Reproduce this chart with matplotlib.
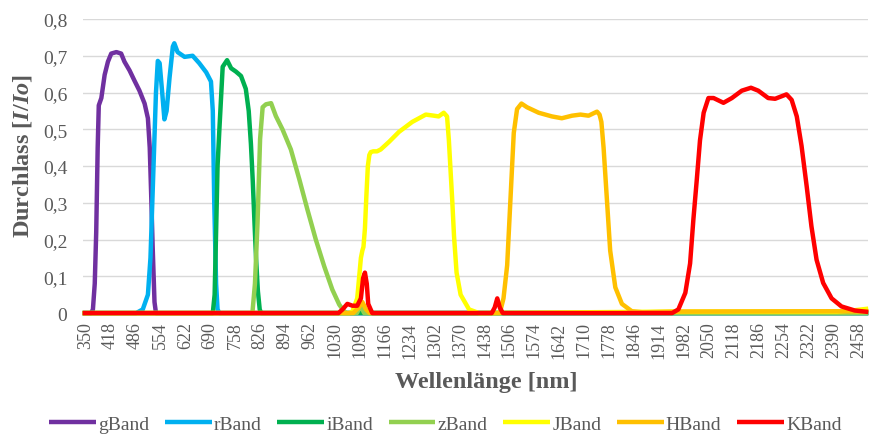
import matplotlib
matplotlib.use("Agg")
import matplotlib.pyplot as plt

plt.rcParams['font.family'] = ['Liberation Serif', 'DejaVu Serif']
plt.rcParams['mathtext.fontset'] = 'custom'
plt.rcParams['mathtext.it'] = 'Liberation Serif:italic:bold'
plt.rcParams['mathtext.rm'] = 'Liberation Serif:bold'

TXT = '#595959'

# transmission curves, wavelength [nm] vs I/Io
g_nm = [342, 365, 370, 375, 379, 383, 386, 393, 402, 411, 420, 434, 447, 456, 470, 483,
        497, 511, 520, 525, 529, 533, 538, 542, 2485]
g_val = [0, 0, 0.01, 0.08, 0.22, 0.45, 0.565, 0.585, 0.648, 0.684, 0.706, 0.71, 0.706,
         0.684, 0.66, 0.633, 0.605, 0.57, 0.53, 0.45, 0.32, 0.18, 0.03, 0, 0]

r_nm = [342, 488, 506, 520, 527, 532, 537, 542, 547, 552, 559, 565, 571, 579, 588, 592,
        601, 620, 642, 660, 679, 692, 697, 701, 706, 710, 715, 2485]
r_val = [0, 0, 0.01, 0.05, 0.15, 0.3, 0.45, 0.6, 0.686, 0.68, 0.6, 0.527, 0.55, 0.64,
         0.725, 0.734, 0.71, 0.697, 0.70, 0.68, 0.655, 0.63, 0.55, 0.3, 0.08, 0.01, 0, 0]

i_nm = [342, 697, 702, 706, 710, 715, 724, 736, 747, 760, 774, 787, 795, 801, 806, 811,
        815, 820, 825, 829, 2485]
i_val = [0, 0, 0.05, 0.22, 0.40, 0.50, 0.67, 0.688, 0.666, 0.657, 0.645, 0.61, 0.55, 0.46,
         0.36, 0.24, 0.15, 0.06, 0.01, 0, 0]

z_nm = [342, 805, 812, 819, 826, 833, 842, 856, 869, 887, 910, 933, 955, 978, 1001, 1023,
        1042, 1055, 1062, 1090, 1100, 1110, 1120, 2485]
z_val = [0, 0, 0.08, 0.245, 0.473, 0.56, 0.568, 0.571, 0.536, 0.50, 0.445, 0.364, 0.282,
         0.20, 0.127, 0.064, 0.023, 0.005, 0, 0, 0.02, 0, 0, 0]

j_nm = [342, 1070, 1078, 1091, 1101, 1105, 1108, 1112, 1116, 1120, 1124, 1128, 1135,
        1145, 1155, 1178, 1205, 1241, 1278, 1300, 1313, 1327, 1336, 1341, 1346, 1350,
        1355, 1362, 1373, 1396, 1423, 1950, 2400, 2450, 2485]
j_val = [0, 0, 0.005, 0.04, 0.15, 0.17, 0.18, 0.23, 0.32, 0.40, 0.43, 0.438, 0.44, 0.44,
         0.445, 0.466, 0.493, 0.52, 0.54, 0.537, 0.535, 0.545, 0.535, 0.47, 0.38, 0.31,
         0.21, 0.11, 0.05, 0.01, 0, 0.004, 0.004, 0.008, 0.012]

h_nm = [342, 1080, 1095, 1105, 1115, 1125, 1480, 1490, 1500, 1509, 1518, 1527, 1539, 1554,
        1586, 1622, 1649, 1677, 1700, 1722, 1745, 1752, 1757, 1763, 1772, 1781, 1795, 1813,
        1840, 1870, 1960, 2400, 2485]
h_val = [0, 0, 0.015, 0.03, 0.01, 0, 0, 0.04, 0.13, 0.31, 0.49, 0.555, 0.57, 0.56, 0.545,
         0.535, 0.53, 0.537, 0.54, 0.537, 0.548, 0.54, 0.52, 0.45, 0.31, 0.17, 0.07, 0.025,
         0.005, 0.002, 0.004, 0.005, 0.004]

k_nm = [342, 1040, 1051, 1064, 1078, 1091, 1101, 1107, 1112, 1117, 1121, 1132, 1458, 1466,
        1473, 1480, 1488, 1950, 1967, 1986, 1999, 2008, 2017, 2026, 2036, 2049, 2063, 2090,
        2113, 2140, 2165, 2185, 2212, 2231, 2262, 2276, 2290, 2303, 2317, 2330, 2344, 2362,
        2385, 2412, 2448, 2485]
k_val = [0, 0, 0.01, 0.025, 0.02, 0.02, 0.04, 0.095, 0.11, 0.08, 0.025, 0, 0, 0.015,
         0.04, 0.015, 0, 0, 0.01, 0.055, 0.135, 0.255, 0.36, 0.47, 0.545, 0.585, 0.585,
         0.572, 0.585, 0.605, 0.613, 0.605, 0.585, 0.583, 0.595, 0.58, 0.535, 0.455, 0.345,
         0.236, 0.145, 0.082, 0.04, 0.018, 0.007, 0.003]

bands = [
    ('gBand', g_nm, g_val, '#7030A0'),
    ('rBand', r_nm, r_val, '#00B0F0'),
    ('iBand', i_nm, i_val, '#00B050'),
    ('zBand', z_nm, z_val, '#92D050'),
    ('JBand', j_nm, j_val, '#FFFF00'),
    ('HBand', h_nm, h_val, '#FFC000'),
    ('KBand', k_nm, k_val, '#FF0000'),
]

x_ticks = list(range(350, 2459, 68))
y_ticks = [0, 0.1, 0.2, 0.3, 0.4, 0.5, 0.6, 0.7, 0.8]
y_labels = ['0', '0,1', '0,2', '0,3', '0,4', '0,5', '0,6', '0,7', '0,8']

fig = plt.figure(figsize=(8.7, 4.35), dpi=100)
ax = fig.add_axes([0.095, 0.278, 0.903, 0.676])

for name, xs, ys, col in bands:
    ax.plot(xs, ys, color=col, lw=3.2, label=name, solid_joinstyle='round',
            solid_capstyle='butt', clip_on=False)

ax.set_xlim(342, 2485)
ax.set_ylim(0, 0.8)
ax.set_xticks(x_ticks)
ax.set_xticklabels([str(v) for v in x_ticks], rotation=90, fontsize=13, color=TXT)
ax.set_yticks(y_ticks)
ax.set_yticklabels(y_labels, fontsize=14, color=TXT)
ax.tick_params(axis='x', length=0, pad=6)
ax.tick_params(axis='y', length=0, pad=11)
ax.grid(axis='y', color='#D9D9D9', lw=1)
ax.set_axisbelow(True)
for s in ax.spines.values():
    s.set_visible(False)

fig.text(0.559, 0.12, 'Wellenlänge [nm]', fontsize=17.5, fontweight='bold', color=TXT,
         ha='center', va='center')
fig.text(0.026, 0.641, r'Durchlass [$I/Io$]', fontsize=17.5, fontweight='bold', color=TXT,
         ha='center', va='center', rotation=90)

fig.legend(loc='center', bbox_to_anchor=(0.512, 0.022), ncol=7, frameon=False,
           fontsize=14, handlelength=2.4, handletextpad=0.12, columnspacing=0.8,
           labelcolor=TXT)

fig.savefig('out.png', dpi=100)
